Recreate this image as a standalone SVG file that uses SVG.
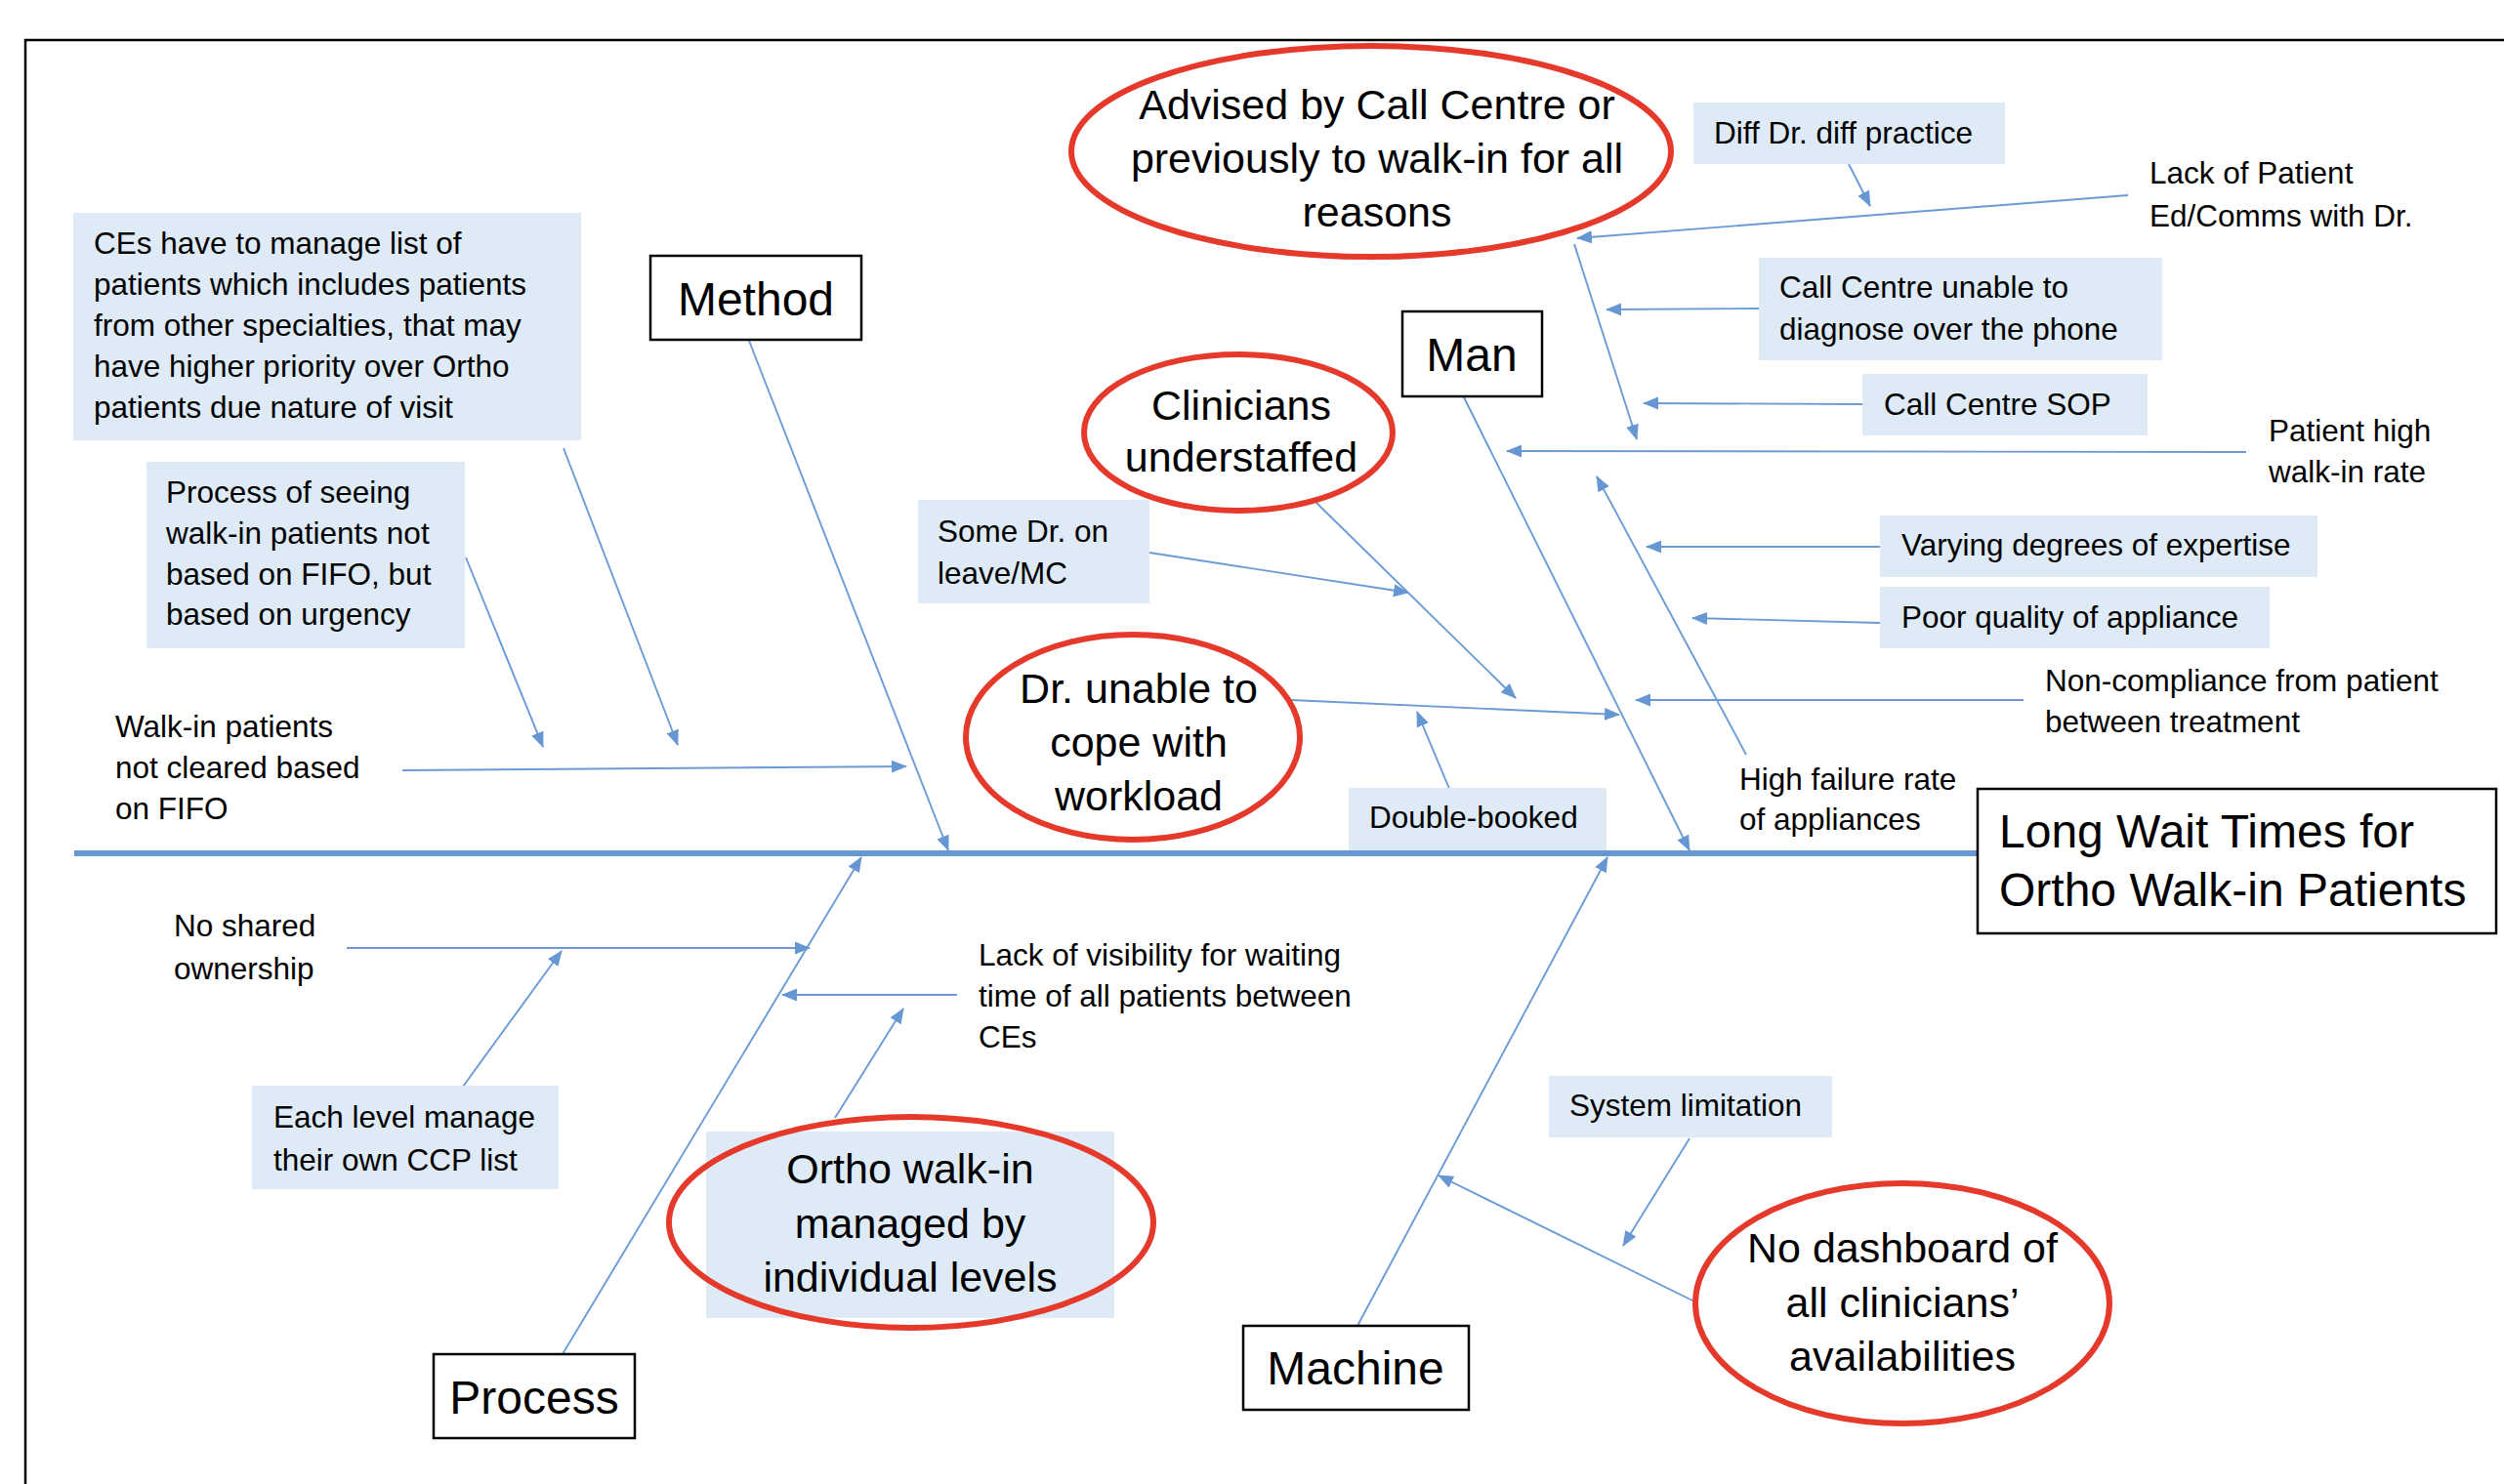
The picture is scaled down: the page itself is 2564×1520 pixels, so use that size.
<svg xmlns="http://www.w3.org/2000/svg" width="2564" height="1520" viewBox="0 0 2564 1520">
<defs>
<marker id="ah" markerUnits="userSpaceOnUse" markerWidth="17" markerHeight="14" refX="15" refY="6.5" orient="auto">
<path d="M0,0 L16,6.5 L0,13 Z" fill="#6697D2"/>
</marker>
<style>
text{font-family:"Liberation Sans",Arial,sans-serif;fill:#000}
.s{font-size:31.5px}
.m{font-size:43px;text-anchor:middle}
.c{font-size:48px;text-anchor:middle}
.t{font-size:48px}
.box{fill:#DEEAF6}
.cat{fill:#fff;stroke:#000;stroke-width:2.5}
.red{fill:none;stroke:#E53A2B;stroke-width:6}
.ln{stroke:#6B9BD6;stroke-width:1.9;fill:none;marker-end:url(#ah)}
.spine{stroke:#6697D2;stroke-width:6}
</style>
</defs>
<rect width="2564" height="1520" fill="#fff"/>
<path d="M26,1520 V41 H2564" fill="none" stroke="#000" stroke-width="2.5"/>

<g id="connectors">
<line class="spine" x1="76" y1="874" x2="2025" y2="874"/>
<line class="ln" x1="767" y1="349" x2="971" y2="871"/>
<line class="ln" x1="577" y1="459" x2="694" y2="763"/>
<line class="ln" x1="477" y1="571" x2="556" y2="765"/>
<line class="ln" x1="412" y1="789" x2="928" y2="785"/>
<line class="ln" x1="1497" y1="403" x2="1730" y2="871"/>
<line class="ln" x1="576" y1="1387" x2="882" y2="878"/>
<line class="ln" x1="1390" y1="1358" x2="1646" y2="878"/>
<line class="ln" x1="355" y1="971" x2="829" y2="971"/>
<line class="ln" x1="474" y1="1113" x2="575" y2="974"/>
<line class="ln" x1="980" y1="1019" x2="801" y2="1019"/>
<line class="ln" x1="855" y1="1145" x2="925" y2="1033"/>
<line class="ln" x1="1730" y1="1166" x2="1662" y2="1276"/>
<line class="ln" x1="1735" y1="1333" x2="1473" y2="1204"/>
<line class="ln" x1="2179" y1="200" x2="1615" y2="244"/>
<line class="ln" x1="1893" y1="168" x2="1915" y2="211"/>
<line class="ln" x1="1612" y1="250" x2="1676" y2="450"/>
<line class="ln" x1="1801" y1="316" x2="1645" y2="317"/>
<line class="ln" x1="1907" y1="414" x2="1683" y2="413"/>
<line class="ln" x1="2300" y1="463" x2="1543" y2="462"/>
<line class="ln" x1="1348" y1="515" x2="1552" y2="715"/>
<line class="ln" x1="1177" y1="566" x2="1442" y2="607"/>
<line class="ln" x1="1322" y1="717" x2="1658" y2="732"/>
<line class="ln" x1="1487" y1="815" x2="1451" y2="729"/>
<line class="ln" x1="1788" y1="773" x2="1635" y2="488"/>
<line class="ln" x1="1925" y1="560" x2="1686" y2="560"/>
<line class="ln" x1="1925" y1="638" x2="1733" y2="633"/>
<line class="ln" x1="2072" y1="717" x2="1675" y2="717"/>
</g>

<g id="effect">
<rect class="cat" x="2025" y="808" width="531" height="148"/>
<text class="t" x="2047" y="868">Long Wait Times for</text>
<text class="t" x="2047" y="928">Ortho Walk-in Patients</text>
</g>

<g id="method">
<rect class="cat" x="666" y="262" width="216" height="86"/>
<text class="c" x="774" y="323">Method</text>
</g>
<g id="man">
<rect class="cat" x="1436" y="319" width="143" height="87"/>
<text class="c" x="1507" y="380">Man</text>
</g>
<g id="process">
<rect class="cat" x="444" y="1387" width="206" height="86"/>
<text class="c" x="547" y="1448">Process</text>
</g>
<g id="machine">
<rect class="cat" x="1273" y="1358" width="231" height="86"/>
<text class="c" x="1388" y="1418">Machine</text>
</g>

<g id="ces-manage">
<rect class="box" x="75" y="218" width="520" height="233"/>
<text class="s" x="96" y="260">CEs have to manage list of</text>
<text class="s" x="96" y="302">patients which includes patients</text>
<text class="s" x="96" y="344">from other specialties, that may</text>
<text class="s" x="96" y="386">have higher priority over Ortho</text>
<text class="s" x="96" y="428">patients due nature of visit</text>
</g>
<g id="process-seeing">
<rect class="box" x="150" y="473" width="326" height="191"/>
<text class="s" x="170" y="515">Process of seeing</text>
<text class="s" x="170" y="557">walk-in patients not</text>
<text class="s" x="170" y="599">based on FIFO, but</text>
<text class="s" x="170" y="640">based on urgency</text>
</g>
<g id="walkin-fifo">
<text class="s" x="118" y="755">Walk-in patients</text>
<text class="s" x="118" y="797">not cleared based</text>
<text class="s" x="118" y="839">on FIFO</text>
</g>

<g id="no-shared">
<text class="s" x="178" y="959">No shared</text>
<text class="s" x="178" y="1003">ownership</text>
</g>
<g id="each-level">
<rect class="box" x="258" y="1112" width="314" height="106"/>
<text class="s" x="280" y="1155">Each level manage</text>
<text class="s" x="280" y="1199">their own CCP list</text>
</g>
<g id="lack-visibility">
<text class="s" x="1002" y="989">Lack of visibility for waiting</text>
<text class="s" x="1002" y="1031">time of all patients between</text>
<text class="s" x="1002" y="1073">CEs</text>
</g>
<g id="ortho-walkin">
<rect class="box" x="723" y="1159" width="418" height="191"/>
<ellipse class="red" cx="933" cy="1252" rx="248" ry="108"/>
<text class="m" x="932" y="1212">Ortho walk-in</text>
<text class="m" x="932" y="1268">managed by</text>
<text class="m" x="932" y="1323">individual levels</text>
</g>

<g id="system-limitation">
<rect class="box" x="1586" y="1102" width="290" height="63"/>
<text class="s" x="1607" y="1143">System limitation</text>
</g>
<g id="no-dashboard">
<ellipse class="red" cx="1948" cy="1335" rx="212" ry="123"/>
<text class="m" x="1948" y="1293">No dashboard of</text>
<text class="m" x="1948" y="1349">all clinicians’</text>
<text class="m" x="1948" y="1404">availabilities</text>
</g>

<g id="advised">
<ellipse class="red" cx="1404" cy="155" rx="307" ry="108"/>
<text class="m" x="1410" y="122">Advised by Call Centre or</text>
<text class="m" x="1410" y="177">previously to walk-in for all</text>
<text class="m" x="1410" y="232">reasons</text>
</g>
<g id="diff-dr">
<rect class="box" x="1734" y="105" width="319" height="63"/>
<text class="s" x="1755" y="147">Diff Dr. diff practice</text>
</g>
<g id="lack-patient-ed">
<text class="s" x="2201" y="188">Lack of Patient</text>
<text class="s" x="2201" y="232">Ed/Comms with Dr.</text>
</g>
<g id="call-centre-unable">
<rect class="box" x="1801" y="264" width="413" height="105"/>
<text class="s" x="1822" y="305">Call Centre unable to</text>
<text class="s" x="1822" y="348">diagnose over the phone</text>
</g>
<g id="call-centre-sop">
<rect class="box" x="1907" y="383" width="292" height="63"/>
<text class="s" x="1929" y="425">Call Centre SOP</text>
</g>
<g id="patient-high">
<text class="s" x="2323" y="452">Patient high</text>
<text class="s" x="2323" y="494">walk-in rate</text>
</g>
<g id="varying">
<rect class="box" x="1925" y="528" width="448" height="63"/>
<text class="s" x="1947" y="569">Varying degrees of expertise</text>
</g>
<g id="poor-quality">
<rect class="box" x="1925" y="601" width="399" height="63"/>
<text class="s" x="1947" y="643">Poor quality of appliance</text>
</g>
<g id="non-compliance">
<text class="s" x="2094" y="708">Non-compliance from patient</text>
<text class="s" x="2094" y="750">between treatment</text>
</g>
<g id="high-failure">
<text class="s" x="1781" y="809">High failure rate</text>
<text class="s" x="1781" y="850">of appliances</text>
</g>

<g id="clinicians">
<ellipse class="red" cx="1268" cy="443" rx="158" ry="80"/>
<text class="m" x="1271" y="430">Clinicians</text>
<text class="m" x="1271" y="483">understaffed</text>
</g>
<g id="some-dr">
<rect class="box" x="940" y="512" width="237" height="106"/>
<text class="s" x="960" y="555">Some Dr. on</text>
<text class="s" x="960" y="598">leave/MC</text>
</g>
<g id="dr-unable">
<ellipse class="red" cx="1160" cy="755" rx="171" ry="105"/>
<text class="m" x="1166" y="720">Dr. unable to</text>
<text class="m" x="1166" y="775">cope with</text>
<text class="m" x="1166" y="830">workload</text>
</g>
<g id="double-booked">
<rect class="box" x="1381" y="807" width="264" height="64"/>
<text class="s" x="1402" y="848">Double-booked</text>
</g>
</svg>
